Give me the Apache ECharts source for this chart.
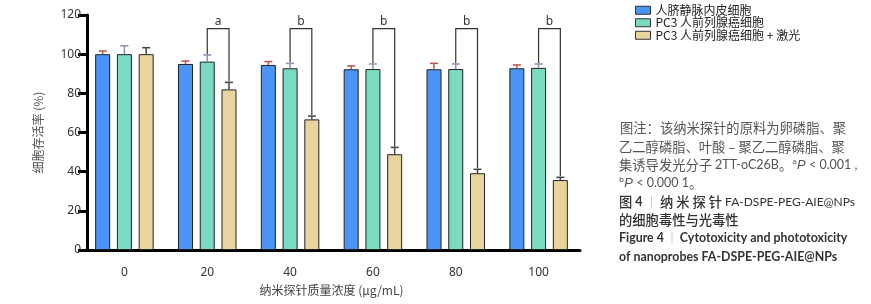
<!DOCTYPE html>
<html>
<head>
<meta charset="utf-8">
<script src="https://cdn.jsdelivr.net/npm/echarts@6/dist/echarts.min.js"></script>
<style>
  html, body { margin: 0; padding: 0; background: #fff; }
  #chart { width: 871px; height: 304px; }
</style>
</head>
<body>
<div id="chart"></div>
<script>
// concentrations (μg/mL)
var categories = ["0", "20", "40", "60", "80", "100"];
var seriesNames = ["人脐静脉内皮细胞", "PC3 人前列腺癌细胞", "PC3 人前列腺癌细胞 + 激光"];
// mean viability (%)
var huvec = [100, 95, 94.5, 92.3, 92.3, 92.8];
var pc3 = [100, 96.2, 92.8, 92.4, 92.4, 93];
var pc3Laser = [100, 82, 66.7, 48.9, 39.2, 35.7];
// top of error bar (%)
var huvecErr = [101.6, 96.5, 96.2, 94, 95.3, 94.5];
var pc3Err = [104.3, 99.6, 95.3, 95, 95, 95];
var pc3LaserErr = [103.3, 85.6, 68.4, 52.4, 41.2, 37.1];
// significance marks (green vs green + laser)
var sigLabels = ["", "a", "b", "b", "b", "b"];
var bracketTop = 113;
var yTicks = [0, 20, 40, 60, 80, 100, 120];

var barColors = ["#4b93f6", "#79dcc0", "#e8d59e"];
var errColors = ["#c0504d", "#8a8fb8", "#444444"];
var BAR_W = 15;
var BAR_GAP = 0.45;
var STEP = BAR_W * (1 + BAR_GAP);

var chart = echarts.init(document.getElementById("chart"));

function errSeries(k, means, tops) {
  var data = means.map(function (v, i) {
    return [i, v, tops[i]];
  });
  return {
    type: "custom",
    z: 5,
    silent: true,
    data: data,
    encode: { x: 0, y: [1, 2] },
    renderItem: function (params, api) {
      var p0 = api.coord([api.value(0), api.value(1)]);
      var p1 = api.coord([api.value(0), api.value(2)]);
      var x = p0[0] + (k - 1) * STEP;
      var st = { stroke: errColors[k], lineWidth: 1.5 };
      return {
        type: "group",
        children: [
          { type: "line", shape: { x1: x, y1: p0[1], x2: x, y2: p1[1] }, style: st },
          { type: "line", shape: { x1: x - 4, y1: p1[1], x2: x + 4, y2: p1[1] }, style: st },
        ],
      };
    },
  };
}

var bracketData = [];
for (var i = 0; i < categories.length; i++) {
  if (sigLabels[i]) bracketData.push([i, pc3Err[i], pc3LaserErr[i], bracketTop]);
}

// caption rich-text pieces, all on one line height so they share a baseline
var LH = 16;
var noteRich = {
  sup: { fontSize: 12.5, lineHeight: LH, fill: "#555", fontFamily: "DejaVu Sans" },
  it: { fontStyle: "italic", fontSize: 13, lineHeight: LH, fill: "#555", fontFamily: "Liberation Sans" },
  lat: { fontSize: 12.5, lineHeight: LH, fill: "#555", fontFamily: "Lato" },
  cn: { fontSize: 13.3, lineHeight: LH, fill: "#555", fontFamily: "Noto Sans CJK SC" },
};

var option = {
  animation: false,
  grid: { left: 83, right: 291, top: 15, bottom: 54 },
  legend: {
    orient: "vertical",
    left: 630,
    top: -1,
    itemWidth: 15,
    itemHeight: 8,
    itemGap: 0,
    icon: "rect",
    data: seriesNames,
    itemStyle: { borderColor: "#333", borderWidth: 1 },
    textStyle: { fontSize: 12, color: "#222", lineHeight: 12.5, fontFamily: "Noto Sans CJK SC" },
  },
  xAxis: {
    type: "category",
    data: categories,
    name: "纳米探针质量浓度 (μg/mL)",
    nameLocation: "middle",
    nameGap: 34,
    nameTextStyle: { fontSize: 12, color: "#444", fontFamily: "Noto Sans CJK SC" },
    axisLine: { lineStyle: { color: "#000", width: 3 } },
    axisTick: { alignWithLabel: true, length: 9, lineStyle: { color: "#000", width: 4 } },
    axisLabel: { fontSize: 12, color: "#333", margin: 17, fontFamily: "Noto Sans" },
  },
  yAxis: {
    type: "value",
    min: 0,
    max: 120,
    interval: 20,
    offset: -4,
    name: "细胞存活率 (%)",
    nameLocation: "middle",
    nameRotate: 90,
    nameGap: 43,
    nameTextStyle: { fontSize: 12, color: "#555", fontFamily: "Noto Sans CJK SC" },
    splitLine: { show: false },
    axisLine: { show: true, lineStyle: { color: "#000", width: 3 } },
    axisTick: { show: true, length: 9, lineStyle: { color: "#000", width: 3 } },
    axisLabel: {
      fontSize: 12,
      color: "#333",
      margin: 6,
      fontFamily: "Noto Sans",
      formatter: function (v) {
        return yTicks.indexOf(v) >= 0 ? v : "";
      },
    },
  },
  series: [
    {
      name: seriesNames[0],
      type: "bar",
      data: huvec,
      barWidth: BAR_W,
      barGap: BAR_GAP * 100 + "%",
      itemStyle: { color: barColors[0], borderColor: "#222", borderWidth: 1 },
    },
    {
      name: seriesNames[1],
      type: "bar",
      data: pc3,
      barWidth: BAR_W,
      barGap: BAR_GAP * 100 + "%",
      itemStyle: { color: barColors[1], borderColor: "#222", borderWidth: 1 },
    },
    {
      name: seriesNames[2],
      type: "bar",
      data: pc3Laser,
      barWidth: BAR_W,
      barGap: BAR_GAP * 100 + "%",
      itemStyle: { color: barColors[2], borderColor: "#222", borderWidth: 1 },
    },
    errSeries(0, huvec, huvecErr),
    errSeries(1, pc3, pc3Err),
    errSeries(2, pc3Laser, pc3LaserErr),
    {
      type: "custom",
      z: 6,
      silent: true,
      data: bracketData,
      encode: { x: 0, y: [1, 2, 3] },
      renderItem: function (params, api) {
        var idx = api.value(0);
        var pa = api.coord([idx, api.value(1)]);
        var pb = api.coord([idx, api.value(2)]);
        var pt = api.coord([idx, api.value(3)]);
        var xa = pa[0];
        var xb = pa[0] + STEP;
        var st = { stroke: "#333", lineWidth: 1.2, fill: null };
        return {
          type: "group",
          children: [
            {
              type: "polyline",
              shape: { points: [[xa, pa[1] - 1], [xa, pt[1]], [xb, pt[1]], [xb, pb[1] - 1]] },
              style: st,
            },
            {
              type: "text",
              x: (xa + xb) / 2,
              y: pt[1] - 7,
              style: {
                text: sigLabels[idx],
                fontSize: 12,
                fill: "#333",
                align: "center",
                verticalAlign: "middle",
                fontFamily: "Noto Sans",
              },
            },
          ],
        };
      },
    },
  ],
  graphic: [
    {
      type: "text",
      x: 620,
      y: 128,
      style: { text: "图注：该纳米探针的原料为卵磷脂、聚", fontSize: 13.3, fill: "#555", verticalAlign: "middle", fontFamily: "Noto Sans CJK SC" },
    },
    {
      type: "text",
      x: 619,
      y: 147,
      style: { text: "乙二醇磷脂、叶酸 – 聚乙二醇磷脂、聚", fontSize: 13.3, fill: "#555", verticalAlign: "middle", fontFamily: "Noto Sans CJK SC" },
    },
    {
      type: "text",
      x: 619,
      y: 165,
      style: {
        text: "{cn|集诱导发光分子 }{lat|2TT-oC26B}{cn|。}{sup|ᵃ}{it|P}{lat| < 0.001 ,}",
        verticalAlign: "middle",
        rich: noteRich,
      },
    },
    {
      type: "text",
      x: 619,
      y: 183,
      style: {
        text: "{sup|ᵇ}{it|P}{lat| < 0.000 1}{cn|。}",
        verticalAlign: "middle",
        rich: noteRich,
      },
    },
    {
      type: "text",
      x: 619,
      y: 202,
      style: {
        text: "{cn|图 }{n|4}{bar| ｜ }{cn|纳 米 探 针 }{lat|FA-DSPE-PEG-AIE@NPs}",
        verticalAlign: "middle",
        rich: {
          cn: { fontSize: 13.3, lineHeight: LH, fontWeight: 500, fill: "#333", fontFamily: "Noto Sans CJK SC" },
          n: { fontSize: 12.5, lineHeight: LH, fontWeight: "bold", fill: "#333", fontFamily: "Lato" },
          bar: { fontSize: 12, lineHeight: LH, fill: "#999", fontFamily: "Noto Sans CJK SC" },
          lat: { fontSize: 12, lineHeight: LH, fill: "#333", fontFamily: "Lato" },
        },
      },
    },
    {
      type: "text",
      x: 619,
      y: 220,
      style: { text: "的细胞毒性与光毒性", fontSize: 13.3, fontWeight: 500, fill: "#333", verticalAlign: "middle", fontFamily: "Noto Sans CJK SC" },
    },
    {
      type: "text",
      x: 619,
      y: 238,
      style: {
        text: "{b|Figure 4}{bar| ｜ }{b|Cytotoxicity and phototoxicity}",
        verticalAlign: "middle",
        rich: {
          b: { fontSize: 12.4, lineHeight: LH, fontWeight: "bold", fill: "#333", fontFamily: "Lato" },
          bar: { fontSize: 11, lineHeight: LH, fill: "#999", fontFamily: "Noto Sans CJK SC" },
        },
      },
    },
    {
      type: "text",
      x: 619,
      y: 257,
      style: { text: "of nanoprobes FA-DSPE-PEG-AIE@NPs", fontSize: 12.4, fontWeight: "bold", fill: "#333", verticalAlign: "middle", fontFamily: "Lato" },
    },
  ],
};

chart.setOption(option);
</script>
</body>
</html>
